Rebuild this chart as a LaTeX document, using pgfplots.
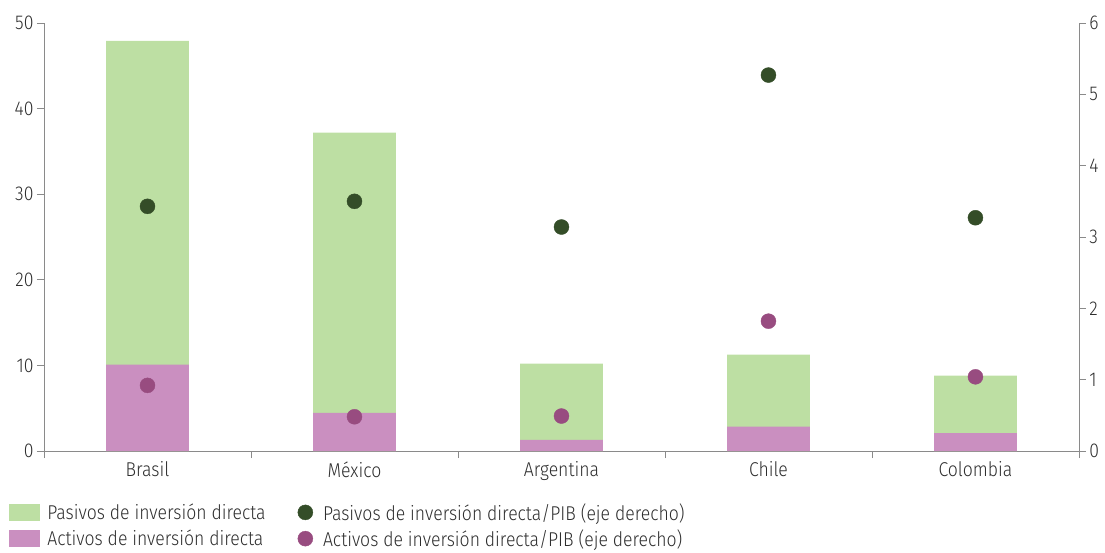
\documentclass[border=0pt]{standalone}
\usepackage{fontspec}
\setmainfont{Fira Sans Light}[FakeStretch=0.88]
\usepackage{pgfplots}
\pgfplotsset{compat=1.18}
\definecolor{greenbar}{HTML}{BDDFA3}
\definecolor{pinkbar}{HTML}{CA8FC0}
\definecolor{darkgreen}{HTML}{344D28}
\definecolor{purpledot}{HTML}{984C80}
\definecolor{axisgray}{HTML}{8A8A8A}
\definecolor{labelgray}{HTML}{2E2E2E}
\pgfplotsset{
  common/.style={
    scale only axis, width=1035pt, height=428pt,
    xmin=-0.5, xmax=4.5,
    tick align=outside, major tick length=7pt,
    axis line style={draw=axisgray, line width=0.8pt, -},
    tick style={draw=axisgray, line width=0.8pt},
    ticklabel style={font=\fontsize{20}{24}\selectfont, text=labelgray},
    /pgf/number format/assume math mode=true,
  }
}
\begin{document}
\begin{tikzpicture}
\path[use as bounding box] (-44pt,-101pt) rectangle (1061pt,451pt);
\begin{axis}[common,
  ymin=0, ymax=50,
  axis x line*=bottom, axis y line*=left,
  xtick={-0.5,0.5,1.5,2.5,3.5,4.5}, x tick label as interval,
  xticklabels={Brasil,México,Argentina,Chile,Colombia},
  ytick={0,10,20,30,40,50},
  ybar, bar width=0.4, bar shift=0pt,
]
\addplot[fill=greenbar, draw=none] coordinates {(0,47.9) (1,37.2) (2,10.2) (3,11.25) (4,8.8)};
\addplot[fill=pinkbar, draw=none] coordinates {(0,10.1) (1,4.45) (2,1.3) (3,2.85) (4,2.1)};
\end{axis}
\begin{axis}[common,
  ymin=0, ymax=6,
  axis y line*=right, hide x axis,
  ytick={0,1,2,3,4,5,6},
  legend style={at={(axis description cs:-0.034,-0.117)}, anchor=north west,
    draw=none, fill=none, inner sep=0pt, font=\fontsize{20}{24}\selectfont, text=labelgray,
    row sep=4pt, /tikz/every even column/.append style={column sep=30pt}},
  legend columns=2, transpose legend, legend cell align=left,
]
\addlegendimage{legend image code/.code={\fill[greenbar] (0pt,-8pt) rectangle (30pt,8pt); \path (36pt,0pt);}}
\addlegendentry{Pasivos de inversión directa}
\addlegendimage{legend image code/.code={\fill[pinkbar] (0pt,-8pt) rectangle (30pt,8pt); \path (36pt,0pt);}}
\addlegendentry{Activos de inversión directa}
\addlegendimage{legend image code/.code={\fill[darkgreen] (7.5pt,0pt) circle (7.5pt); \path (23pt,0pt);}}
\addplot[only marks, mark=*, mark size=7.5pt, color=darkgreen, forget plot] coordinates {(0,3.43) (1,3.50) (2,3.14) (3,5.27) (4,3.27)};
\addlegendentry{Pasivos de inversión directa/PIB (eje derecho)}
\addlegendimage{legend image code/.code={\fill[purpledot] (7.5pt,0pt) circle (7.5pt); \path (23pt,0pt);}}
\addplot[only marks, mark=*, mark size=7.5pt, color=purpledot, forget plot] coordinates {(0,0.92) (1,0.48) (2,0.49) (3,1.82) (4,1.04)};
\addlegendentry{Activos de inversión directa/PIB (eje derecho)}
\end{axis}
\end{tikzpicture}
\end{document}
